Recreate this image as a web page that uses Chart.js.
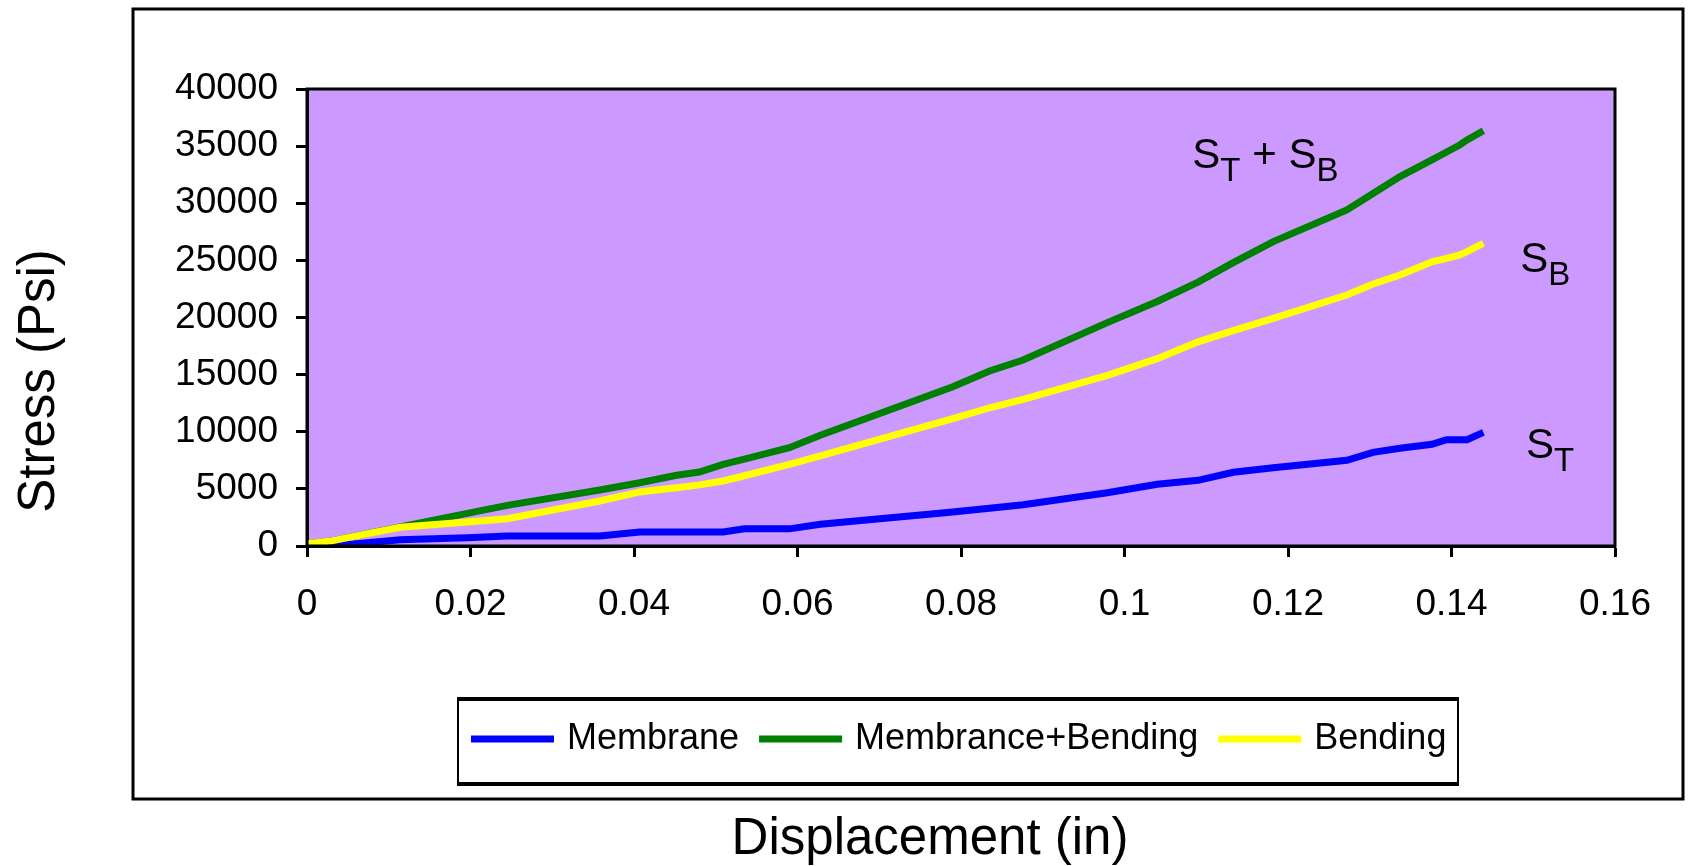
<!DOCTYPE html>
<html>
<head>
<meta charset="utf-8">
<script src="https://cdn.jsdelivr.net/npm/chart.js@4/dist/chart.umd.min.js"></script>
<style>
  html, body { margin: 0; padding: 0; background: #fff; }
  #wrap { width: 1688px; height: 866px; }
</style>
</head>
<body>
<div id="wrap"><canvas id="chart" width="1688" height="866"></canvas></div>
<script>
// valores (desplazamiento en pulgadas, esfuerzo en psi)
const displacement = [0, 0.003, 0.0114, 0.0196, 0.0245, 0.0358, 0.0407, 0.0452, 0.048, 0.0509, 0.0535, 0.059, 0.0628, 0.079, 0.0835, 0.0876, 0.0979, 0.104, 0.109, 0.1133, 0.1182, 0.1272, 0.1304, 0.1337, 0.1376, 0.1394, 0.141, 0.1419, 0.1439];
const membrane = [0, 0, 550, 730, 875, 875, 1225, 1225, 1225, 1225, 1500, 1500, 1900, 2975, 3300, 3615, 4667, 5400, 5750, 6450, 6850, 7500, 8200, 8550, 8900, 9300, 9300, 9300, 9950];
const membraneBending = [200, 450, 1680, 2850, 3560, 4900, 5540, 6190, 6480, 7150, 7600, 8600, 9690, 13940, 15320, 16280, 19550, 21400, 23100, 24800, 26640, 29410, 30850, 32330, 33790, 34490, 35100, 35540, 36350];
const bending = [200, 450, 1640, 2100, 2390, 3940, 4730, 5100, 5350, 5690, 6150, 7150, 7880, 11140, 12100, 12840, 14940, 16400, 17870, 18850, 19930, 21970, 22930, 23720, 24880, 25180, 25470, 25760, 26500];

const seriesNames = ["Membrane", "Membrance+Bending", "Bending"];
const seriesColors = ["#0000ff", "#008000", "#ffff00"];

// etiquetas S_T, S_B dentro del grafico (posicion en unidades de datos)
const labelNotes = [
  { x: 0.1083, y: 33100, parts: [["S", 0], ["T", 1], [" + ", 0], ["S", 0], ["B", 1]] },
  { x: 0.1484, y: 24000, parts: [["S", 0], ["B", 1]] },
  { x: 0.1491, y: 7700, parts: [["S", 0], ["T", 1]] }
];

const FONT = "'Liberation Sans', Arial, sans-serif";

function pts(vals) {
  return displacement.map((x, i) => ({ x: x, y: vals[i] }));
}

const decorPlugin = {
  id: "decor",
  beforeDraw(chart) {
    const ctx = chart.ctx;
    const a = chart.chartArea;
    ctx.save();
    ctx.fillStyle = "#fff";
    ctx.fillRect(0, 0, chart.width, chart.height);
    // marco exterior
    ctx.strokeStyle = "#000";
    ctx.lineWidth = 3;
    ctx.strokeRect(133, 9, 1550, 790);
    ctx.fillStyle = "#cc99ff";
    ctx.fillRect(a.left, a.top, a.right - a.left, a.bottom - a.top);
    ctx.restore();
  },
  afterDraw(chart) {
    const ctx = chart.ctx;
    const a = chart.chartArea;
    const xs = chart.scales.x, ys = chart.scales.y;
    ctx.save();
    ctx.strokeStyle = "#000";
    ctx.lineWidth = 3;
    ctx.strokeRect(a.left, a.top, a.right - a.left, a.bottom - a.top);

    // titulos de ejes
    ctx.fillStyle = "#000";
    ctx.textAlign = "center";
    ctx.textBaseline = "middle";
    ctx.font = "51px " + FONT;
    ctx.fillText("Displacement (in)", 930, 840);
    ctx.save();
    ctx.translate(40, 381);
    ctx.rotate(-Math.PI / 2);
    ctx.fillText("Stress (Psi)", 0, 0);
    ctx.restore();

    // notas S_T / S_B
    ctx.textAlign = "left";
    ctx.textBaseline = "alphabetic";
    labelNotes.forEach(n => {
      let px = xs.getPixelForValue(n.x);
      const py = ys.getPixelForValue(n.y);
      n.parts.forEach(([t, sub]) => {
        ctx.font = (sub ? "33px " : "42px ") + FONT;
        ctx.fillText(t, px, sub ? py + 13 : py);
        px += ctx.measureText(t).width;
      });
    });

    // leyenda (bordes superior/inferior mas gruesos)
    ctx.lineWidth = 2;
    ctx.strokeRect(458, 699, 1000, 85);
    ctx.lineWidth = 4;
    ctx.beginPath();
    ctx.moveTo(457, 699); ctx.lineTo(1459, 699);
    ctx.moveTo(457, 784); ctx.lineTo(1459, 784);
    ctx.stroke();
    ctx.font = "36px " + FONT;
    ctx.textBaseline = "middle";
    let lx = 471;
    const ly = 739;
    chart.data.datasets.forEach(ds => {
      ctx.strokeStyle = ds.borderColor;
      ctx.lineWidth = 7;
      ctx.beginPath();
      ctx.moveTo(lx, ly);
      ctx.lineTo(lx + 83, ly);
      ctx.stroke();
      lx += 96;
      ctx.fillStyle = "#000";
      ctx.fillText(ds.label, lx, ly);
      lx += ctx.measureText(ds.label).width + 20;
    });
    ctx.restore();
  }
};

new Chart(document.getElementById("chart"), {
  type: "line",
  data: {
    datasets: [
      { label: seriesNames[0], data: pts(membrane), borderColor: seriesColors[0], order: 2 },
      { label: seriesNames[1], data: pts(membraneBending), borderColor: seriesColors[1], order: 1 },
      { label: seriesNames[2], data: pts(bending), borderColor: seriesColors[2], order: 0 }
    ].map(d => Object.assign(d, { borderWidth: 7, pointRadius: 0, tension: 0, fill: false, borderJoinStyle: "miter", borderCapStyle: "butt" }))
  },
  options: {
    responsive: false,
    animation: false,
    layout: { padding: { left: 0, top: 89, right: 73, bottom: 0 } },
    plugins: { legend: { display: false }, tooltip: { enabled: false } },
    scales: {
      x: {
        type: "linear",
        min: 0, max: 0.16,
        afterFit(s) { s.height = 320; },
        grid: { drawOnChartArea: false, drawTicks: true, tickLength: 11, tickWidth: 3, tickColor: "#000" },
        border: { display: true, color: "#000", width: 3 },
        ticks: {
          stepSize: 0.02,
          padding: 26,
          color: "#000",
          font: { family: FONT, size: 37 },
          maxRotation: 0,
          callback: v => String(parseFloat(v.toFixed(2)))
        }
      },
      y: {
        min: 0, max: 40000,
        afterFit(s) { s.width = 307; },
        grid: { drawOnChartArea: false, drawTicks: true, tickLength: 11, tickWidth: 3, tickColor: "#000" },
        border: { display: true, color: "#000", width: 3 },
        ticks: {
          stepSize: 5000,
          padding: 18,
          color: "#000",
          font: { family: FONT, size: 37 },
          callback: v => String(v)
        }
      }
    }
  },
  plugins: [decorPlugin]
});
</script>
</body>
</html>
